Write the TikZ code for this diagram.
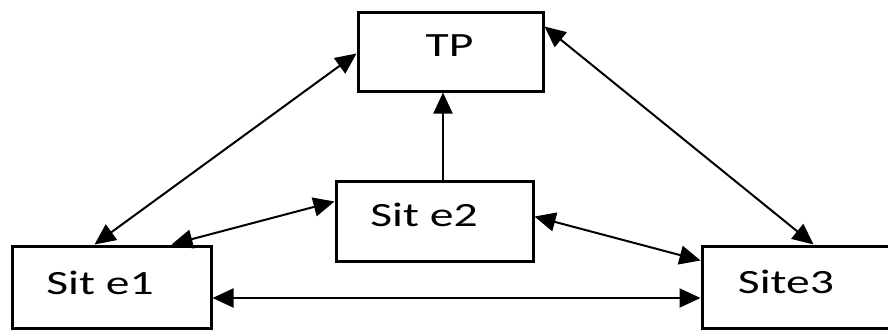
\documentclass[tikz,border=0pt]{standalone}
\usepackage{fontspec}
\setmainfont{Carlito}[FakeStretch=1.4]
\usetikzlibrary{arrows.meta,calc}
\tikzset{
  boxnode/.style={draw=black, line width=3pt, rectangle, inner sep=0pt, fill=white},
  lbl/.style={inner sep=0pt, font=\fontsize{34}{40}\selectfont, text=black},
  arr/.style={line width=2pt, black, arrows={-Triangle[length=21pt,width=19pt]}},
  darr/.style={line width=2pt, black, arrows={Triangle[length=21pt,width=19pt]-Triangle[length=21pt,width=19pt]}}
}
\begin{document}
\begin{tikzpicture}[x=1pt,y=-1pt]
\useasboundingbox[fill=white] (0,0) rectangle (888,330);
% boxes
\node[boxnode, minimum width=185pt, minimum height=79pt] (tp) at (450.5,51.5) {};
\node[boxnode, minimum width=199pt, minimum height=82pt] (s1) at (111.5,287) {};
\node[boxnode, minimum width=197pt, minimum height=80pt] (s2) at (434.5,221) {};
\node[boxnode, minimum width=187pt, minimum height=82pt] (s3) at (795.5,287) {};
% labels
\node[lbl] (tpt) at (449.5,46) {TP};
\node[lbl] (s1t) at (100,283) {Sit e1};
\node[lbl] (s2t) at (424,215) {Sit e2};
\node[lbl] (s3t) at (786,282) {Site3};
% connectors
\draw[darr] ($(s1.north west)+(84,0)$) -- ($(tp.north west)+(0,43)$);
\draw[darr] ($(s3.north west)+(113,0)$) -- ($(tp.north east)+(0,16)$);
\draw[darr] ($(s1.north west)+(161,0)$) -- ($(s2.north west)+(0,22)$);
\draw[darr] ($(s2.north east)+(0,37)$) -- ($(s3.north west)+(0,16)$);
\coordinate (v0) at ($(s2.north)+(8.5,0)$);
\draw[arr] (v0) -- (v0 |- tp.south);
\draw[darr] ($(s1.east)+(0,11)$) -- ($(s3.west)+(0,11)$);
\end{tikzpicture}
\end{document}
